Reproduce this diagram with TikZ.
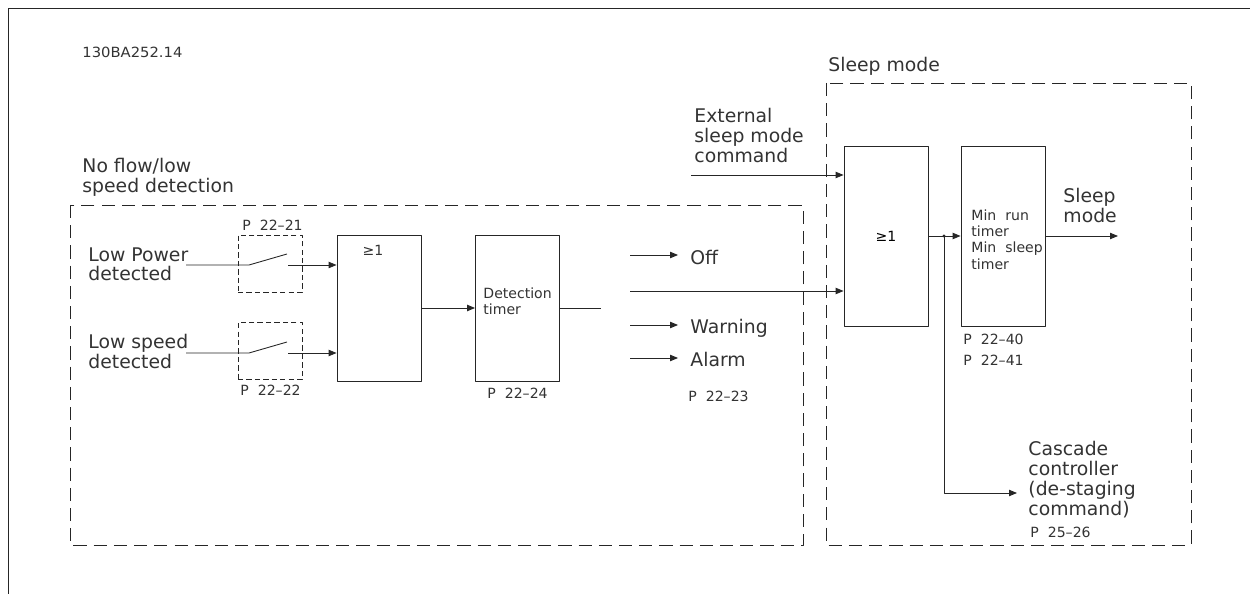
\documentclass[tikz,border=0pt]{standalone}
\usepackage{fontspec}
\usepackage{graphicx}
\setmainfont{DejaVu Sans}
\usetikzlibrary{arrows.meta}
\newcommand\bigtxt{\fontsize{10.7}{11.3}\selectfont}
\newcommand\smltxt{\fontsize{8}{9.3}\selectfont}
\begin{document}
\begin{tikzpicture}[x=0.02cm,y=-0.02cm,>={Triangle[length=4.5pt,width=3.6pt]},line width=.5pt,line join=round,draw=black!85]
\tikzset{txt/.style={font=\bigtxt,align=left,inner sep=0pt,anchor=north west,text=black!80},
	par/.style={font=\smltxt,align=left,inner sep=0pt,anchor=north west,text=black!80},
	gate/.style={draw,minimum width=1.68cm,inner sep=0pt,font=\smltxt},
	swbox/.style={draw,dash pattern=on 3pt off 1.8pt,minimum width=1.28cm,minimum height=1.14cm},
	group/.style={draw,dash pattern=on 7.5pt off 4pt},
	outarrow/.style={->,shorten >=6.8pt}}
\useasboundingbox (0,0) rectangle (1250,594);
\draw (8,594) -- (8,8) -- (1250,8);
\node[par] (code) at (82,47) {\scalebox{1.05}[1]{130BA252.14}};
% no flow / low speed detection
\draw[group] (70,205) rectangle (803,545);
\node[txt] (nfl) at (82,158) {No flow/low\\speed detection};
\node[txt] (lp) at (88,247) {Low Power\\detected};
\node[txt] (ls) at (88,334) {Low speed\\detected};
\node[swbox] (sw1) at (270,263.5) {};
\node[swbox] (sw2) at (270,351) {};
\node[par] (p21) at (242,220) {P\ \ 22--21};
\node[par] (p22) at (240,385) {P\ \ 22--22};
\coordinate (in1) at (186,265); \coordinate (in2) at (186,353);
\coordinate (a1) at (249,265); \coordinate (b1) at (287,254); \coordinate (c1) at (288,265);
\coordinate (a2) at (249,353); \coordinate (b2) at (287,342); \coordinate (c2) at (288,353);
\node[gate,minimum height=2.92cm] (or1) at (379,308) {};
\node[par,anchor=north] (or1t) at (373,245) {≥1};
\node[gate,minimum height=2.92cm] (det) at (517.5,308) {};
\node[par] (dett) at (483,287) {Detection\\timer};
\node[par] (p24) at (487,388) {P\ \ 22--24};
\draw (in1) -- (a1) -- (b1);
\draw (in2) -- (a2) -- (b2);
\draw[->] (c1) -- (c1 -| or1.west);
\draw[->] (c2) -- (c2 -| or1.west);
\draw[->] (or1.east) -- (det.west);
\coordinate (d1) at (601,308);
\draw (det.east) -- (d1);
\node[txt] (off) at (690,250) {Off};
\node[txt] (wrn) at (690,319) {Warning};
\node[txt] (alm) at (690,352) {Alarm};
\node[par] (p23) at (688,391) {P\ \ 22--23};
\coordinate (o1) at (630,255); \coordinate (o2) at (630,291);
\coordinate (o3) at (630,325); \coordinate (o4) at (630,358);
\draw[outarrow] (o1) -- (o1 -| off.west);
\draw[outarrow] (o3) -- (o3 -| wrn.west);
\draw[outarrow] (o4) -- (o4 -| alm.west);
% sleep mode
\draw[group] (826,83) rectangle (1191,545);
\node[txt] (slp) at (828,57) {Sleep mode};
\node[txt] (ext) at (694,108) {External\\sleep mode\\command};
\coordinate (ex) at (691,175);
\node[gate,minimum height=3.6cm] (or2) at (886,236) {≥1};
\node[gate,minimum height=3.6cm] (tmr) at (1003,236) {};
\node[par] (tmrt) at (971,209) {Min\ \ run\\timer\\Min\ \ sleep\\timer};
\node[par,font=\fontsize{8}{11.9}\selectfont] (p40) at (963,334) {P\ \ 22--40\\P\ \ 22--41};
\node[txt] (slo) at (1063,188) {Sleep\\mode};
\node[txt] (cas) at (1028,441) {Cascade\\controller\\(de-staging\\command)};
\node[par] (p26) at (1030,527) {P\ \ 25--26};
\draw[->] (ex) -- (ex -| or2.west);
\draw[->] (o2) -- (o2 -| or2.west);
\draw[->] (or2.east) -- (tmr.west);
\coordinate (jn) at (944,236);
\fill[black!85] (jn) circle (1.6);
\coordinate (ce) at (1017,493);
\draw[->] (jn) |- (ce);
\coordinate (so) at (1118,236);
\draw[->] (tmr.east) -- (so);
\end{tikzpicture}
\end{document}
